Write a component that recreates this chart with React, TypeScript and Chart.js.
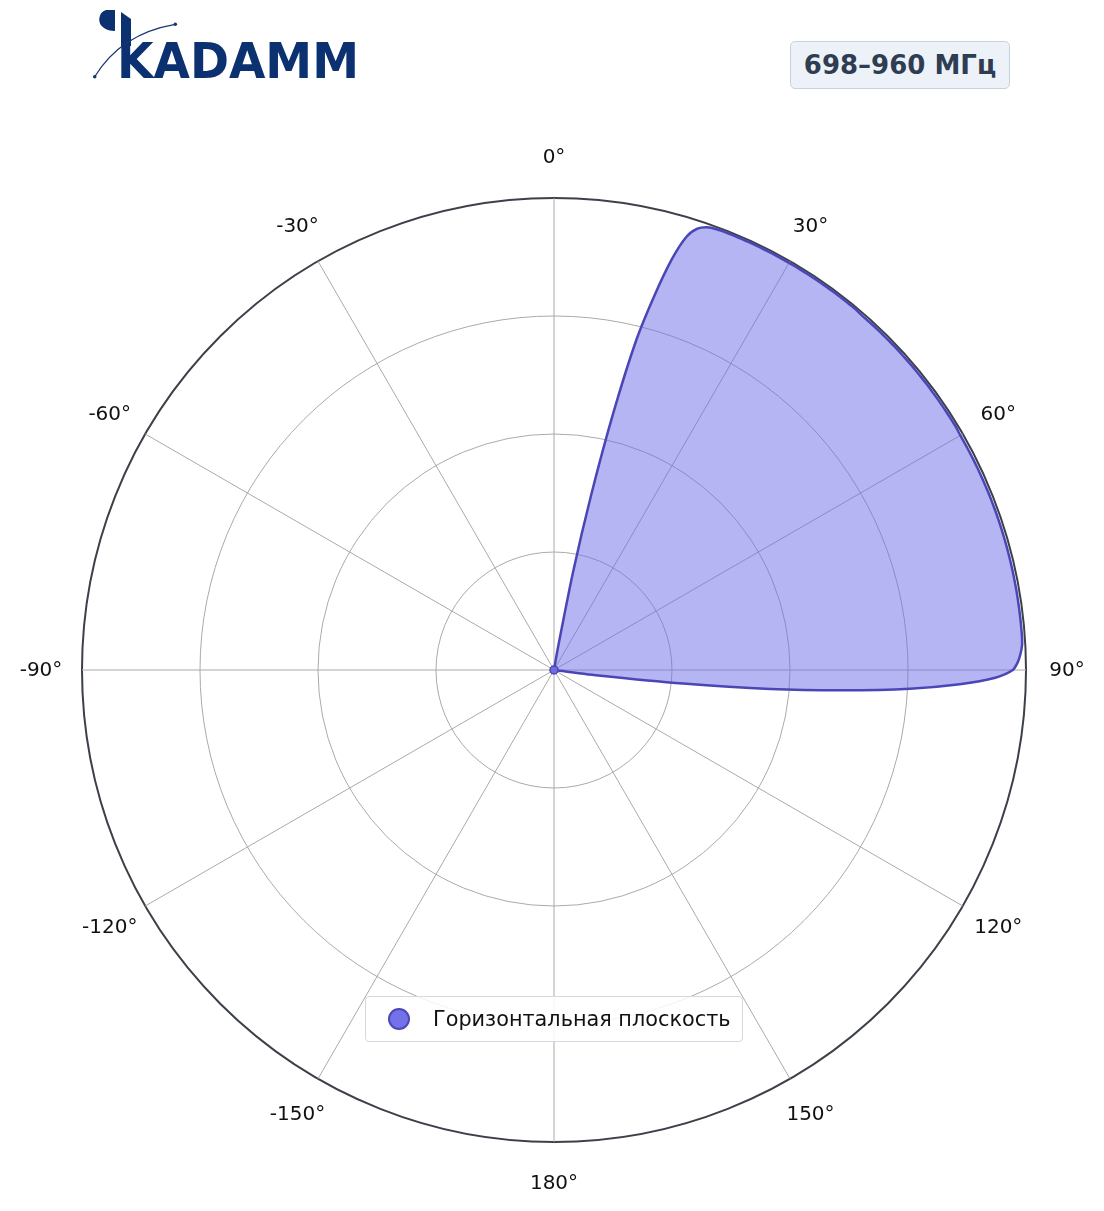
import React, { useEffect, useRef } from "react";
import { Chart, registerables } from "chart.js";

Chart.register(...registerables);

// First angle (degrees, clockwise from top) of the main lobe samples
const lobeStart = 8;
// Normalised gain, one value per degree from lobeStart (8°) to 99°; zero everywhere else
const lobeGain = [
  0, 0, 0.05, 0.21, 0.38, 0.56, 0.72, 0.82, 0.905, 0.96, 0.983, 0.992, // 8..19
  0.995, 0.996, 0.996, 0.996, 0.996, 0.996, 0.996, 0.996, 0.996, 0.996, // 20..29
  0.996, 0.996, 0.996, 0.996, 0.996, 0.996, 0.996, 0.996, 0.996, 0.996, // 30..39
  0.996, 0.995, 0.995, 0.995, 0.995, 0.995, 0.995, 0.995, 0.995, 0.995, // 40..49
  0.995, 0.995, 0.995, 0.995, 0.995, 0.995, 0.995, 0.995, 0.995, 0.995, // 50..59
  0.994, 0.994, 0.994, 0.994, 0.994, 0.994, 0.994, 0.994, 0.994, 0.994, // 60..69
  0.994, 0.994, 0.994, 0.994, 0.994, 0.994, 0.994, 0.994, 0.994, 0.994, // 70..79
  0.994, 0.994, 0.994, 0.994, 0.994, 0.994, 0.994, 0.993, 0.989, 0.983, // 80..89
  0.972, 0.935, 0.86, 0.755, 0.615, 0.46, 0.275, 0.1, 0, 0, // 90..99
];
// Tick labels every 30°
const tickLabels = ["0°", "30°", "60°", "90°", "120°", "150°", "180°", "-150°", "-120°", "-90°", "-60°", "-30°"];
const seriesName = "Горизонтальная плоскость";
const bandLabel = "698–960 МГц";

const degrees: number[] = Array.from({ length: 360 }, (_, i) => i);
const gainSeries = degrees.map((d) => {
  const k = d - lobeStart;
  return k >= 0 && k < lobeGain.length ? lobeGain[k] : 0;
});
const categoryLabels = degrees.map((d) => (d % 30 === 0 ? tickLabels[d / 30] : ""));

const FONT = "'DejaVu Sans', sans-serif";

export default function App() {
  const canvasRef = useRef<HTMLCanvasElement | null>(null);

  useEffect(() => {
    document.body.style.margin = "0";
    document.body.style.overflow = "hidden";
    const canvas = canvasRef.current!;
    const labelPlugin = {
      id: "polarLabels",
      afterDraw(chart: any) {
        const scale = chart.scales.r;
        const ctx = chart.ctx;
        ctx.save();
        ctx.font = `20px ${FONT}`;
        ctx.fillStyle = "#111111";
        ctx.textAlign = "center";
        ctx.textBaseline = "middle";
        categoryLabels.forEach((lab, i) => {
          if (!lab) return;
          const p = scale.getPointPosition(i, scale.drawingArea + 41);
          ctx.fillText(lab, p.x, p.y + 1);
        });
        ctx.restore();
      },
    };
    const chart = new Chart(canvas, {
      type: "radar",
      data: {
        labels: categoryLabels,
        datasets: [
          {
            label: seriesName,
            data: gainSeries,
            borderColor: "#4b46b6",
            backgroundColor: "rgba(108,108,234,0.5)",
            borderWidth: 2.5,
            fill: true,
            tension: 0.25,
            pointRadius: (c: any) => (c.dataIndex === 0 ? 4 : 0),
            pointBackgroundColor: "#6e6ce2",
            pointBorderColor: "#4b46b6",
            pointBorderWidth: 1.5,
            pointHoverRadius: 0,
          },
        ],
      },
      options: {
        animation: false,
        responsive: false,
        devicePixelRatio: 1,
        layout: { padding: { left: 82, right: 78, top: 198, bottom: 69 } },
        plugins: { legend: { display: false }, tooltip: { enabled: false } },
        scales: {
          r: {
            min: 0,
            max: 1,
            startAngle: 0,
            ticks: { display: false, stepSize: 0.25 },
            pointLabels: { display: false },
            grid: {
              circular: true,
              color: (c: any) => (c.tick && c.tick.value >= 1 ? "#3c4049" : "#aaaaaa"),
              lineWidth: (c: any) => (c.tick && c.tick.value >= 1 ? 2 : 1),
            },
            angleLines: {
              display: true,
              color: "#aaaaaa",
              lineWidth: (c: any) => (c.index % 30 === 0 ? 1 : 0),
            },
          },
        },
      },
      plugins: [labelPlugin],
    } as any);
    return () => chart.destroy();
  }, []);

  return (
    <div style={{ position: "relative", width: 1104, height: 1211, background: "#ffffff" }}>
      <canvas ref={canvasRef} width={1104} height={1211} style={{ position: "absolute", left: 0, top: 0 }} />
      <svg width={400} height={100} style={{ position: "absolute", left: 0, top: 0 }}>
        <path d="M115 10 L106 10 A10 10 0 0 0 104 28 Q108 31 115 31 Z" fill="#0b3171" />
        <polygon points="121,12 131,19 131,46 121,46" fill="#0b3171" />
        <text
          x={117}
          y={78}
          fontFamily={FONT}
          fontWeight="bold"
          fontSize={50}
          fill="#0b3171"
          textLength={242}
          lengthAdjust="spacingAndGlyphs"
        >
          KADAMM
        </text>
        <path d="M94.7 76.7 Q121 33.5 175.3 24.3" fill="none" stroke="#1a3570" strokeWidth={1.2} />
        <circle cx={94.7} cy={76.7} r={1.8} fill="#1a3570" />
        <circle cx={175.3} cy={24.3} r={1.8} fill="#1a3570" />
      </svg>
      <div
        style={{
          position: "absolute",
          left: 790,
          top: 41,
          width: 220,
          height: 48,
          boxSizing: "border-box",
          border: "1.5px solid #c8d2de",
          borderRadius: 5,
          background: "#edf2f8",
          color: "#2e3d51",
          fontFamily: FONT,
          fontWeight: "bold",
          fontSize: 26,
          display: "flex",
          alignItems: "center",
          justifyContent: "center",
          whiteSpace: "nowrap",
        }}
      >
        {bandLabel}
      </div>
      <div
        style={{
          position: "absolute",
          left: 365,
          top: 996,
          width: 378,
          height: 46,
          boxSizing: "border-box",
          border: "1.5px solid #d5d8e2",
          borderRadius: 4,
          background: "rgba(255,255,255,0.85)",
          fontFamily: FONT,
          fontSize: 20.8,
          color: "#111111",
        }}
      >
        <div
          style={{
            position: "absolute",
            left: 22,
            top: 10.5,
            width: 22,
            height: 22,
            boxSizing: "border-box",
            borderRadius: "50%",
            background: "#7472e8",
            border: "2px solid #4c48b8",
          }}
        />
        <div style={{ position: "absolute", left: 67, top: 0, height: 44, lineHeight: "44px", whiteSpace: "nowrap" }}>
          {seriesName}
        </div>
      </div>
    </div>
  );
}
